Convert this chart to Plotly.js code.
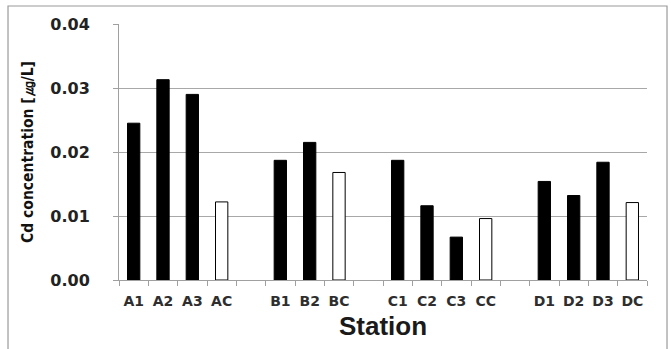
<!DOCTYPE html>
<html>
<head>
<meta charset="utf-8">
<script src="https://cdn.plot.ly/plotly-3.0.1.min.js"></script>
<style>html,body{margin:0;padding:0;background:#fff;}#chart{width:671px;height:349px;}</style>
</head>
<body>
<div id="chart"></div>
<script>
// Station slots (blank slots are the gaps between groups)
var stations = ["A1","A2","A3","AC"," ","B1","B2","BC","  ","C1","C2","C3","CC","   ","D1","D2","D3","DC"];
// Cd concentration (µg/L), null = empty gap slot
var cdValues = [0.0245,0.0313,0.0290,0.0122,null,0.0187,0.0215,0.0168,null,0.0187,0.0116,0.0067,0.0096,null,0.0154,0.0132,0.0184,0.0121];
var yTicks = [0, 0.01, 0.02, 0.03, 0.04];
var yTickLabels = ["0.00","0.01","0.02","0.03","0.04"];

var isControl = stations.map(function(s){ return /C$/.test(s) && s.length === 2; });
var fills = isControl.map(function(c){ return c ? "#ffffff" : "#000000"; });

var trace = {
  type: "bar",
  x: stations,
  y: cdValues,
  width: 0.42,
  marker: { color: fills, line: { color: "#000000", width: 1 } },
  hoverinfo: "x+y"
};

var layout = {
  width: 671, height: 349,
  margin: { l: 119, r: 24, t: 24, b: 69, pad: 0 },
  paper_bgcolor: "#ffffff",
  plot_bgcolor: "#ffffff",
  showlegend: false,
  font: { family: "Liberation Sans, Arial, sans-serif", color: "#222" },
  xaxis: {
    type: "category",
    categoryorder: "array",
    categoryarray: stations,
    range: [-0.5, 17.5],
    tickson: "boundaries",
    tickangle: 0,
    ticks: "outside",
    ticklen: 5,
    tickcolor: "#a0a0a0",
    tickwidth: 1,
    showline: true,
    linecolor: "#a0a0a0",
    linewidth: 1,
    showgrid: false,
    zeroline: false,
    automargin: false,
    ticklabelstandoff: 8,
    tickfont: { family: "DejaVu Sans, sans-serif", size: 14, color: "#2e2e2e", weight: "bold" },
    title: { text: "<b>Station</b>", standoff: 9,
      font: { family: "Liberation Sans, Arial, sans-serif", size: 26, color: "#1a1a1a", weight: "bold" } }
  },
  yaxis: {
    range: [0, 0.04],
    tickvals: yTicks,
    ticktext: yTickLabels,
    ticks: "outside",
    ticklen: 5,
    tickcolor: "#a0a0a0",
    showline: true,
    linecolor: "#a0a0a0",
    linewidth: 1,
    showgrid: true,
    gridcolor: "#a8a8a8",
    gridwidth: 1,
    zeroline: false,
    automargin: false,
    ticklabelstandoff: 20,
    tickfont: { family: "DejaVu Sans, sans-serif", size: 16, color: "#222", weight: "bold" },
    title: { text: "<b>Cd concentration [㎍/L]</b>", standoff: 12,
      font: { family: "DejaVu Sans Condensed, DejaVu Sans, sans-serif", size: 15.5, color: "#111111", weight: "bold" } }
  },
  shapes: [{
    type: "rect", xref: "paper", yref: "paper",
    x0: -0.2102, x1: 1.0379, y0: -0.29, y1: 1.0703,
    line: { color: "#9a9a9a", width: 1.2 }, fillcolor: "rgba(0,0,0,0)", layer: "below"
  }]
};

Plotly.newPlot("chart", [trace], layout, { displayModeBar: false, staticPlot: true });
</script>
</body>
</html>
